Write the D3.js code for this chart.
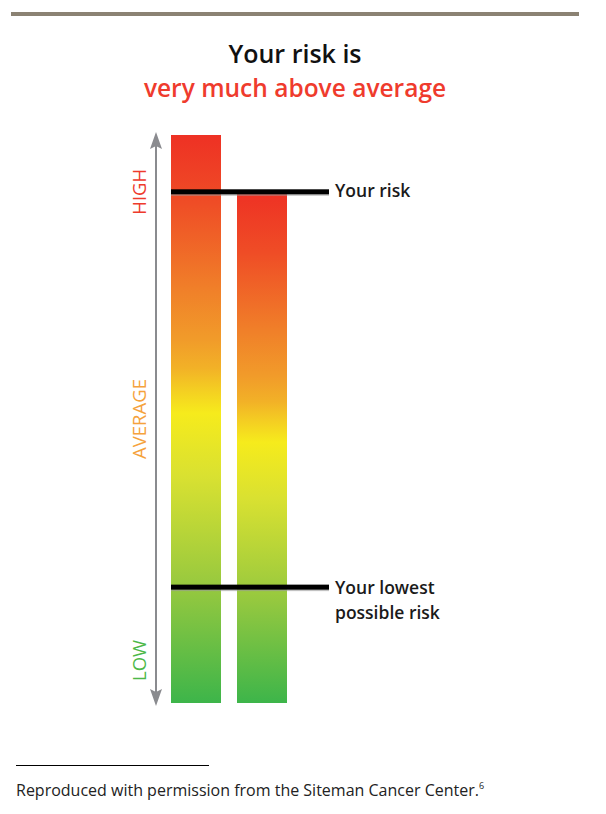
<!DOCTYPE html>
<html>
<head>
<meta charset="utf-8">
<script src="https://cdn.jsdelivr.net/npm/d3@7"></script>
<style>
  html, body { margin: 0; padding: 0; background: #fff; }
  svg { display: block; }
  text { font-family: "Open Sans", "Noto Sans", sans-serif; }
</style>
</head>
<body>
<svg id="chart" width="606" height="814"></svg>
<script>
// ---- Data ----
const titleLines = ["Your risk is", "very much above average"];
const bars = ["Scale", "Your risk level"];
const barValues = [100, 90];          // top of each bar on a 0–100 risk scale
const markers = ["Your risk", "Your lowest possible risk"];
const markerValues = [90, 20.4];
const markerLabels = [["Your risk"], ["Your lowest", "possible risk"]];
const axisLabels = ["HIGH", "AVERAGE", "LOW"];
const axisLabelValues = [90, 50, 7.5];
const footnote = "Reproduced with permission from the Siteman Cancer Center.";
const footnoteRef = "6";

// ---- Setup ----
const svg = d3.select("#chart");
const defs = svg.append("defs");

const y = d3.scaleLinear().domain([0, 100]).range([703, 135]);
const x = d3.scaleBand().domain(bars).range([171, 287]).paddingInner(16 / 66).paddingOuter(0);

// gradient
const grad = defs.append("linearGradient")
  .attr("id", "riskGrad")
  .attr("x1", 0).attr("y1", 0).attr("x2", 0).attr("y2", 1);
const stops = [
  [0, "#ee3124"], [0.12, "#ef4d26"], [0.27, "#f07f29"], [0.36, "#f19b2a"],
  [0.41, "#f2b127"], [0.45, "#f4cf22"], [0.49, "#f6eb1c"], [0.6, "#d9e131"], [0.8, "#95c83f"], [1, "#3db54a"]
];
grad.selectAll("stop").data(stops).join("stop")
  .attr("offset", d => d[0]).attr("stop-color", d => d[1]);

// top rule
svg.append("rect").attr("x", 11).attr("y", 12).attr("width", 568).attr("height", 4).attr("fill", "#8b8273");

// title
const cx = 295;
svg.append("text").attr("x", cx).attr("y", 63).attr("text-anchor", "middle")
  .attr("font-size", 25).attr("font-weight", 600).attr("fill", "#111")
  .text(titleLines[0]);
svg.append("text").attr("x", cx).attr("y", 97).attr("text-anchor", "middle")
  .attr("font-size", 24.5).attr("font-weight", 600).attr("fill", "#ef3b2d")
  .text(titleLines[1]);

// axis arrow
const axisX = 156, axisColor = "#8a8b8f";
const yTop = y(100) - 3, yBot = y(0) + 3;
svg.append("line").attr("x1", axisX).attr("x2", axisX)
  .attr("y1", yTop + 8).attr("y2", yBot - 8)
  .attr("stroke", axisColor).attr("stroke-width", 2);
svg.append("path")
  .attr("d", `M${axisX},${yTop} L${axisX + 6},${yTop + 17} L${axisX},${yTop + 14} L${axisX - 6},${yTop + 17} Z`)
  .attr("fill", axisColor);
svg.append("path")
  .attr("d", `M${axisX},${yBot} L${axisX + 6},${yBot - 17} L${axisX},${yBot - 14} L${axisX - 6},${yBot - 17} Z`)
  .attr("fill", axisColor);

// axis labels (rotated)
const labelColors = ["#ee3a2c", "#f5a23c", "#4cb848"];
svg.selectAll("text.axl").data(axisLabels).join("text")
  .attr("class", "axl")
  .attr("transform", (d, i) => `translate(146,${y(axisLabelValues[i])}) rotate(-90)`)
  .attr("text-anchor", "middle")
  .attr("font-size", 18.5).attr("font-weight", 500).attr("fill", (d, i) => labelColors[i])
  .text(d => d);

// bars
svg.selectAll("rect.bar").data(bars).join("rect")
  .attr("class", "bar")
  .attr("x", d => x(d)).attr("width", x.bandwidth())
  .attr("y", (d, i) => y(barValues[i]))
  .attr("height", (d, i) => y(0) - y(barValues[i]))
  .attr("fill", "url(#riskGrad)");

// marker lines
const lineX2 = 329;
svg.selectAll("rect.mshadow").data(markers).join("rect")
  .attr("class", "mshadow")
  .attr("x", 171).attr("width", lineX2 - 171)
  .attr("y", (d, i) => y(markerValues[i]) + 1.5).attr("height", 2.5)
  .attr("fill", "#9a9a9a").attr("opacity", 0.6);
svg.selectAll("rect.mline").data(markers).join("rect")
  .attr("class", "mline")
  .attr("x", 171).attr("width", lineX2 - 171)
  .attr("y", (d, i) => y(markerValues[i]) - 2.5).attr("height", 5)
  .attr("fill", "#000");

// marker labels
const ml = svg.selectAll("text.ml").data(markerLabels).join("text")
  .attr("class", "ml")
  .attr("x", 335)
  .attr("y", (d, i) => y(markerValues[i]) + (i === 0 ? 5 : 7))
  .attr("font-size", 17.5).attr("font-weight", 600).attr("fill", "#1a1a1a");
ml.selectAll("tspan").data(d => d).join("tspan")
  .attr("x", 335).attr("dy", (d, j) => j === 0 ? 0 : 25)
  .text(d => d);

// footnote
svg.append("line").attr("x1", 16).attr("x2", 209).attr("y1", 765.5).attr("y2", 765.5)
  .attr("stroke", "#000").attr("stroke-width", 1);
const fn = svg.append("text").attr("x", 16).attr("y", 796)
  .attr("font-size", 16).attr("fill", "#222");
fn.append("tspan").text(footnote);
fn.append("tspan").attr("font-size", 9).attr("dy", -7).text(footnoteRef);
</script>
</body>
</html>
